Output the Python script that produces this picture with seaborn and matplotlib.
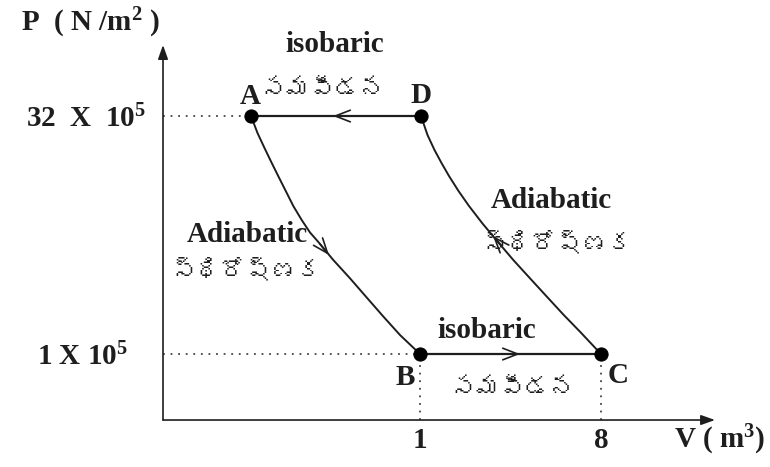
import matplotlib
matplotlib.use("Agg")
import matplotlib.pyplot as plt
import matplotlib.transforms as mtransforms
import seaborn as sns
from matplotlib import font_manager
from matplotlib.ft2font import FT2Font

# ---------------- data (schematic diagram units) ----------------
# adiabatic A -> B
V_AB = [0.88, 0.945, 1.015, 1.085, 1.153, 1.22, 1.303, 1.387, 1.47, 1.545,
        1.703, 1.87, 2.037, 2.203, 2.37, 2.57]
P_AB = [3.04, 2.87, 2.72, 2.575, 2.438, 2.305, 2.14, 2.00, 1.875, 1.79,
        1.60, 1.417, 1.225, 1.035, 0.85, 0.66]
# adiabatic C -> D
V_CD = [4.38, 4.17, 4.003, 3.837, 3.67, 3.503, 3.337, 3.195, 3.06, 2.955,
        2.86, 2.785, 2.715, 2.645, 2.58]
P_CD = [0.66, 0.883, 1.055, 1.235, 1.417, 1.60, 1.795, 1.965, 2.14, 2.29,
        2.44, 2.57, 2.70, 2.85, 3.04]
# state points
point_names = ["A", "B", "C", "D"]
V_pts = [0.88, 2.57, 4.38, 2.58]
P_pts = [3.04, 0.66, 0.66, 3.04]
# tick labels
x_tick_pos = [2.57, 4.38]
x_tick_labels = ["1", "8"]
y_tick_pos = [3.04, 0.66]
y_tick_labels = [r"32  X  10$^{5}$", r"1 X 10$^{5}$"]

isobaric_en = "isobaric"
isobaric_te = "సమపీడన"
adiabatic_en = "Adiabatic"
adiabatic_te = "స్థిరోష్ణక"

# ---------------- style ----------------
sns.set_theme(style="white")


def find_font(ch):
    for f in font_manager.fontManager.ttflist:
        try:
            if ord(ch) in FT2Font(f.fname).get_charmap():
                return f.name
        except Exception:
            pass
    return None


te_font = find_font("స")
te_family = [te_font, "DejaVu Sans"] if te_font else ["DejaVu Sans"]

plt.rcParams["font.family"] = ["Liberation Serif", "DejaVu Serif"]
plt.rcParams["font.weight"] = "bold"
plt.rcParams["mathtext.fontset"] = "custom"
plt.rcParams["mathtext.rm"] = "Liberation Serif:bold"
plt.rcParams["mathtext.it"] = "Liberation Serif:bold"
plt.rcParams["mathtext.bf"] = "Liberation Serif:bold"
plt.rcParams["mathtext.default"] = "rm"

ink = "#1e1e1e"
FS = 21
TFS = 18

fig = plt.figure(figsize=(7.7, 4.67), dpi=100)
ax = fig.add_axes([0.2117, 0.1006, 0.7169, 0.803])
ax.set_xlim(0, 5.52)
ax.set_ylim(0, 3.75)
for s in ax.spines.values():
    s.set_visible(False)

# axes with arrow heads
ax.annotate("", xy=(1, 0), xytext=(0, 0), xycoords="axes fraction",
            arrowprops=dict(arrowstyle="-|>,head_length=0.7,head_width=0.25",
                            lw=1.2, color=ink, shrinkA=0, shrinkB=0))
ax.annotate("", xy=(0, 1), xytext=(0, 0), xycoords="axes fraction",
            arrowprops=dict(arrowstyle="-|>,head_length=0.7,head_width=0.25",
                            lw=1.2, color=ink, shrinkA=0, shrinkB=0))

# dotted guide lines
dot = dict(color="#444444", lw=1.3, linestyle=(0, (1, 3.2)))
ax.plot([0, V_pts[0]], [P_pts[0], P_pts[0]], **dot)
ax.plot([0, V_pts[1]], [P_pts[1], P_pts[1]], **dot)
ax.plot([V_pts[1], V_pts[1]], [0, P_pts[1]], **dot)
ax.plot([V_pts[2], V_pts[2]], [0, P_pts[2]], **dot)

# process lines
sns.lineplot(x=V_AB, y=P_AB, sort=False, color=ink, lw=1.4, ax=ax)
sns.lineplot(x=V_CD, y=P_CD, sort=False, color=ink, lw=1.4, ax=ax)
sns.lineplot(x=[V_pts[3], V_pts[0]], y=[P_pts[3], P_pts[0]], sort=False,
             color=ink, lw=1.6, ax=ax)
sns.lineplot(x=[V_pts[1], V_pts[2]], y=[P_pts[1], P_pts[2]], sort=False,
             color=ink, lw=1.6, ax=ax)
sns.scatterplot(x=V_pts, y=P_pts, color="black", s=90, edgecolor="black",
                zorder=5, ax=ax)

# direction arrows (open chevrons)
arr = dict(arrowstyle="->,head_length=0.9,head_width=0.35", lw=1.2,
           color=ink, shrinkA=0, shrinkB=0)
ax.annotate("", xy=(1.70, 3.04), xytext=(1.86, 3.04), arrowprops=arr)
ax.annotate("", xy=(3.57, 0.66), xytext=(3.41, 0.66), arrowprops=arr)
ax.annotate("", xy=(1.66, 1.65), xytext=(1.57, 1.76), arrowprops=arr)
ax.annotate("", xy=(3.30, 1.84), xytext=(3.38, 1.75), arrowprops=arr)

# ticks
ax.set_xticks(x_tick_pos)
ax.set_xticklabels(x_tick_labels)
ax.set_yticks(y_tick_pos)
ax.set_yticklabels(y_tick_labels)
ax.tick_params(axis="both", length=0, labelsize=FS, labelcolor=ink)
ax.tick_params(axis="x", pad=5)
ax.tick_params(axis="y", pad=12)
for t in ax.get_xticklabels() + ax.get_yticklabels():
    t.set_fontweight("bold")
# lower y label sits a little further left of the axis in the reference
lbl = ax.get_yticklabels()[1]
lbl.set_transform(lbl.get_transform() +
                  mtransforms.ScaledTranslation(-0.18, 0, fig.dpi_scale_trans))

# axis titles
ax.text(-0.73, 3.97, r"P  ( N /m$^{2}$ )", fontsize=FS, ha="center",
        va="center", color=ink)
ax.text(5.57, -0.20, r"V ( m$^{3}$)", fontsize=FS, ha="center",
        va="center", color=ink)

# point labels
lab = dict(fontsize=FS, ha="center", va="center", color=ink)
ax.text(0.87, 3.24, point_names[0], **lab)
ax.text(2.42, 0.43, point_names[1], **lab)
ax.text(4.55, 0.45, point_names[2], **lab)
ax.text(2.58, 3.25, point_names[3], **lab)

# process labels
ax.text(1.72, 3.76, isobaric_en, **lab)
ax.text(3.24, 0.90, isobaric_en, **lab)
ax.text(0.84, 1.86, adiabatic_en, **lab)
ax.text(3.88, 2.20, adiabatic_en, **lab)
te = dict(fontsize=TFS, ha="center", va="center", color=ink,
          family=te_family, fontweight="normal")
ax.text(1.60, 3.31, isobaric_te, **te)
ax.text(3.50, 0.32, isobaric_te, **te)
ax.text(0.83, 1.50, adiabatic_te, **te)
ax.text(3.94, 1.77, adiabatic_te, **te)

fig.savefig("out.png", dpi=100)
